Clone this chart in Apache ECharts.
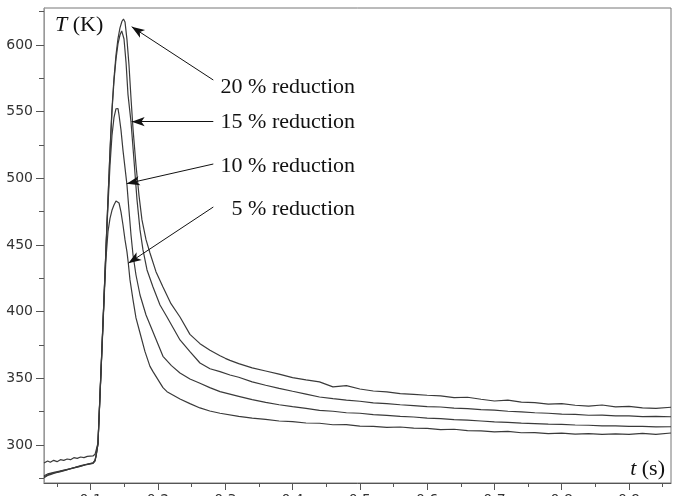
<!DOCTYPE html>
<html><head><meta charset="utf-8">
<script src="https://cdn.jsdelivr.net/npm/echarts@6/dist/echarts.min.js"></script>
<style>html,body{margin:0;padding:0;background:#fff}#c{width:677px;height:496px}</style>
</head><body><div id="c"></div>
<script>
// ---- axis ticks ----
const xMajorTicks = [0.1, 0.2, 0.3, 0.4, 0.5, 0.6, 0.7, 0.8, 0.9];
const xMinorTicks = [0.05, 0.15, 0.25, 0.35, 0.45, 0.55, 0.65, 0.75, 0.85, 0.95];
const yMajorTicks = [300, 350, 400, 450, 500, 550, 600];
const yMinorTicks = [275, 325, 375, 425, 475, 525, 575, 625];
const xRange = [0.0306, 0.9624];
const yRange = [271.5, 627.75];

// ---- series: [t (s), T (K)] ----
const seriesNames = ['20 % reduction', '15 % reduction', '10 % reduction', '5 % reduction'];
const red20 = [[0.0306,286.5],[0.036,288],[0.040,287],[0.045,288.5],[0.050,287.5],[0.055,289],[0.060,288.5],[0.065,289.5],[0.070,289],[0.075,290.5],[0.080,290],[0.085,291],[0.090,290.5],[0.095,291.5],[0.1034,291.8],[0.1064,293],[0.108,296],
[0.1108,301.5],[0.1153,356],[0.1198,411],[0.1242,466.5],[0.1287,521],[0.1316,552],[0.1346,575],[0.1376,592.5],[0.1406,605],[0.1435,612.8],[0.1465,617.8],[0.1487,619.5],[0.151,617.3],[0.1539,604],[0.1569,585],[0.1599,560],[0.1629,537],[0.1673,510],[0.1718,487],[0.1762,468.8],[0.1822,454],[0.1881,444],[0.197,430],[0.2074,418.5],[0.2193,406],[0.2327,396],[0.2475,383],[0.2624,376],[0.2773,371],[0.2922,367],[0.30,365],[0.307,363.5],
[0.32,361],[0.34,357.8],[0.36,355.5],[0.38,353.2],[0.40,350.5],[0.42,348.8],[0.44,347.3],[0.46,343.6],[0.48,344.5],[0.50,342],[0.52,340.5],[0.54,339.8],[0.56,338.5],[0.58,338],[0.60,337.3],[0.62,336.8],[0.64,335.5],[0.66,335.8],[0.68,334.3],[0.70,333],[0.72,333.6],[0.74,332.2],[0.76,331.8],[0.78,330.6],[0.80,331],[0.82,329.8],[0.84,329.2],[0.86,330],[0.88,328.6],[0.90,329],[0.92,327.8],[0.94,327.5],[0.9624,328.3]];
const red15 = [[0.0306,277],[0.036,278.3],[0.041,278.9],[0.047,279.6],[0.054,280.4],[0.062,281.4],[0.069,282.2],[0.077,283.3],[0.084,284.3],[0.092,285.4],[0.1034,286.6],[0.1064,288.6],[0.108,292.2],
[0.1108,301.2],[0.1153,355.5],[0.1198,410.5],[0.1242,466],[0.1287,520],[0.1316,550],[0.1346,573],[0.1376,589.5],[0.1406,601],[0.1435,607.5],[0.1461,610.6],[0.1495,604.5],[0.1525,587],[0.1554,563],[0.1599,542.3],[0.1643,513.8],[0.1688,484],[0.1733,461.3],[0.1777,446.3],[0.1837,431.3],[0.1926,418.5],[0.203,405],[0.2134,396],[0.2327,378.8],[0.2475,370],[0.2624,361.5],[0.2773,357.2],[0.2922,355],[0.307,352.5],
[0.32,350.8],[0.34,347.3],[0.36,344.8],[0.38,342.5],[0.40,340.3],[0.42,338.2],[0.44,336],[0.46,334.8],[0.48,333.7],[0.50,332.8],[0.52,331.6],[0.54,331],[0.56,330.2],[0.58,329.6],[0.60,328.8],[0.62,328.5],[0.64,327.6],[0.66,327.3],[0.68,326.5],[0.70,326.2],[0.72,325.3],[0.74,324.9],[0.76,324.2],[0.78,323.8],[0.80,323.2],[0.82,322.9],[0.84,322.3],[0.86,322.4],[0.88,321.8],[0.90,321.9],[0.92,321.3],[0.94,321.5],[0.9624,321.2]];
const red10 = [[0.0306,275.5],[0.036,277.2],[0.041,278],[0.047,279],[0.054,279.8],[0.062,281],[0.069,282.1],[0.077,283],[0.084,284],[0.092,285.1],[0.1034,286.2],[0.1064,288],[0.108,291.6],
[0.1108,300.8],[0.1153,355],[0.1198,410],[0.1242,464],[0.1287,510],[0.1316,532],[0.1346,545.5],[0.1376,552.2],[0.1386,553.7],[0.1406,552.3],[0.1421,547.5],[0.145,536.3],[0.148,521],[0.151,507.8],[0.1539,495],[0.1569,476],[0.1599,457.5],[0.1629,442.5],[0.1673,427.5],[0.1733,412.5],[0.1822,397.5],[0.1926,384.8],[0.2074,366.5],[0.22,359.5],[0.2327,354],[0.2475,349.5],[0.2624,346.3],[0.277,343],[0.2922,340],
[0.32,336.5],[0.34,334],[0.36,332],[0.38,330.2],[0.40,328.8],[0.42,327.5],[0.44,326],[0.46,325.3],[0.48,324.2],[0.50,323.8],[0.52,322.8],[0.54,322.2],[0.56,321.5],[0.58,321],[0.60,320.2],[0.62,319.8],[0.64,319],[0.66,318.6],[0.68,318],[0.70,317.4],[0.72,317],[0.74,316.4],[0.76,316.1],[0.78,315.6],[0.80,315.5],[0.82,315],[0.84,314.8],[0.86,314.3],[0.88,314.4],[0.90,313.9],[0.92,314],[0.94,313.6],[0.9624,313.7]];
const red5 = [[0.0306,276.2],[0.036,277.5],[0.041,278.6],[0.047,279.2],[0.054,280.2],[0.062,281.2],[0.069,282],[0.077,283.2],[0.084,284],[0.092,285.2],[0.1034,286.4],[0.1064,288.3],[0.108,292],
[0.1108,300.5],[0.1153,354],[0.1198,408],[0.1227,440],[0.1257,460],[0.1287,470],[0.1316,476],[0.1346,480],[0.1376,483],[0.1395,483.7],[0.1421,481.5],[0.145,474.8],[0.148,465],[0.151,453.8],[0.1539,444.8],[0.1559,436.3],[0.1584,423.8],[0.1629,408.8],[0.1673,395.3],[0.1733,384],[0.1807,370],[0.1881,359],[0.1926,355],[0.2074,343],[0.2134,340],[0.2327,334.5],[0.2475,331],[0.2624,327.8],[0.277,325.5],[0.2922,323.8],
[0.32,321.5],[0.34,320.2],[0.36,319.2],[0.38,318],[0.40,317.6],[0.42,316.5],[0.44,316.3],[0.46,315.2],[0.48,315.3],[0.50,314.2],[0.52,314],[0.54,313.2],[0.56,313.5],[0.58,312.6],[0.60,312.4],[0.62,311.6],[0.64,311.8],[0.66,310.8],[0.68,310.6],[0.70,309.8],[0.72,310.2],[0.74,309.2],[0.76,309.3],[0.78,308.6],[0.80,308.9],[0.82,308.2],[0.84,308.6],[0.86,307.9],[0.88,308.3],[0.90,308],[0.92,308.7],[0.94,307.9],[0.9624,309]];

// ---- annotation arrows: [from, to] in data coords ----
const arrowFrom = [[0.2822,573.75],[0.2822,542.5],[0.2822,510.75],[0.2822,478.5]];
const arrowTo   = [[0.1609,613.7],[0.1609,542.5],[0.1535,496],[0.1559,436.3]];

const chart = echarts.init(document.getElementById('c'), null, {renderer:'canvas'});
const seriesData = [red20, red15, red10, red5];
const serif = '"Liberation Serif", "Times New Roman", serif';

const series = seriesData.map((d, i) => ({
  name: seriesNames[i],
  type: 'line',
  data: d,
  xAxisIndex: 0, yAxisIndex: 0,
  showSymbol: false,
  smooth: false,
  lineStyle: {color: '#3a3a3a', width: 1.2},
  z: 3,
  markLine: {
    silent: true,
    symbol: ['none', 'arrow'],
    symbolSize: [7, 13],
    lineStyle: {color: '#111', width: 1, type: 'solid'},
    label: {show: false},
    emphasis: {disabled: true},
    animation: false,
    data: [[{coord: arrowFrom[i]}, {coord: arrowTo[i]}]]
  }
}));

const labelY = [87, 122.5, 166, 209];
const graphics = seriesNames.map((n, i) => ({
  type: 'text', z: 10,
  style: {text: n, x: 355, y: labelY[i], textAlign: 'right', textVerticalAlign: 'middle',
          font: '22px ' + serif, fill: '#111'}
}));
graphics.push({
  type: 'text', z: 10,
  style: {text: '{i|T} (K)', x: 55, y: 25, textAlign: 'left', textVerticalAlign: 'middle',
          font: '22px ' + serif, fill: '#111',
          rich: {i: {fontStyle: 'italic', fontFamily: serif, fontSize: 22}}}
});
graphics.push({
  type: 'text', z: 10,
  style: {text: '{i|t} (s)', x: 665, y: 469, textAlign: 'right', textVerticalAlign: 'middle',
          font: '22px ' + serif, fill: '#111',
          rich: {i: {fontStyle: 'italic', fontFamily: serif, fontSize: 22}}}
});

chart.setOption({
  animation: false,
  backgroundColor: '#fff',
  grid: {left: 44, right: 6, top: 8, bottom: 13, show: true, borderColor: '#777', borderWidth: 1,
         containLabel: false, outerBoundsMode: 'none'},
  xAxis: [
    {type: 'value', min: xRange[0], max: xRange[1], position: 'bottom',
     axisLine: {show: true, onZero: false, lineStyle: {color: '#555', width: 1}},
     axisTick: {show: true, length: 7, customValues: xMajorTicks, lineStyle: {color: '#555'}},
     axisLabel: {show: true, customValues: xMajorTicks, margin: 10, fontFamily: 'DejaVu Sans', fontSize: 14, color: '#333'},
     splitLine: {show: false}},
    {type: 'value', min: xRange[0], max: xRange[1], position: 'bottom', gridIndex: 0,
     axisLine: {show: false},
     axisTick: {show: true, length: 4, customValues: xMinorTicks, lineStyle: {color: '#555'}},
     axisLabel: {show: false}, splitLine: {show: false}}
  ],
  yAxis: [
    {type: 'value', min: yRange[0], max: yRange[1], position: 'left',
     axisLine: {show: true, onZero: false, lineStyle: {color: '#999', width: 1}},
     axisTick: {show: true, length: 8, customValues: yMajorTicks, lineStyle: {color: '#555'}},
     axisLabel: {show: true, customValues: yMajorTicks, margin: 11, fontFamily: 'DejaVu Sans', fontSize: 14, color: '#333'},
     splitLine: {show: false}},
    {type: 'value', min: yRange[0], max: yRange[1], position: 'left', gridIndex: 0,
     axisLine: {show: false},
     axisTick: {show: true, length: 5, customValues: yMinorTicks, lineStyle: {color: '#555'}},
     axisLabel: {show: false}, splitLine: {show: false}}
  ],
  series: series,
  graphic: graphics
});
</script>
</body></html>
